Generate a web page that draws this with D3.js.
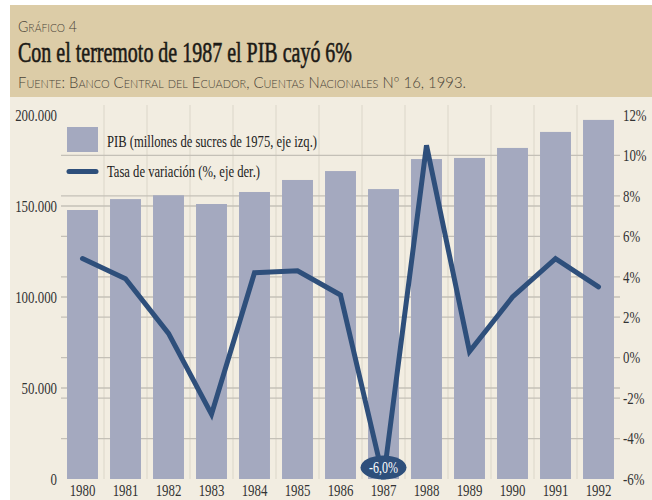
<!DOCTYPE html>
<html><head><meta charset="utf-8">
<script src="https://cdn.jsdelivr.net/npm/d3@7"></script>
<style>body{margin:0;background:#fff}svg{display:block}</style>
</head><body><svg id="c" width="652" height="500"></svg>
<script>
const years = [1980,1981,1982,1983,1984,1985,1986,1987,1988,1989,1990,1991,1992];
const pib = [147800,153800,155900,151100,157700,164300,169200,159300,175800,176400,181900,190700,197300];
const tasa = [4.9,3.9,1.2,-2.8,4.2,4.3,3.1,-6.0,10.5,0.3,3.0,4.9,3.5];
const leftTicks = [0,50000,100000,150000,200000];
const rightTicks = [-6,-4,-2,0,2,4,6,8,10,12];
const legendLabels = ["PIB (millones de sucres de 1975, eje izq.)","Tasa de variación (%, eje der.)"];
const titleText = "Con el terremoto de 1987 el PIB cayó 6%";
const kickerText = "Gráfico 4";
const sourceText = "Fuente: Banco Central del Ecuador, Cuentas Nacionales Nº 16, 1993.";
const calloutText = "-6,0%";

const svg = d3.select("#c");
const serif = "'Liberation Serif','Times New Roman',serif";
const sans = "Lato,'Noto Sans',sans-serif";

// backgrounds
svg.append("rect").attr("x",10).attr("y",5).attr("width",642).attr("height",92).attr("fill","#dccca7");
svg.append("rect").attr("x",10).attr("y",97).attr("width",642).attr("height",403).attr("fill","#f2ede1");

function condense(sel, k){
  sel.each(function(){
    const w = this.getComputedTextLength();
    d3.select(this).attr("textLength", w*k).attr("lengthAdjust","spacingAndGlyphs");
  });
}
function fit(sel, w){ sel.attr("textLength", w).attr("lengthAdjust","spacingAndGlyphs"); }

// header
fit(svg.append("text").attr("x",18).attr("y",31.5).text(kickerText)
  .style("font-family",sans).style("font-weight",300).style("font-size","15px")
  .style("font-variant","small-caps").attr("fill","#4a4438"), 59);
fit(svg.append("text").attr("x",18).attr("y",61.5).text(titleText)
  .style("font-family",serif).style("font-size","29px").attr("fill","#1c1a16")
  .attr("stroke","#1c1a16").attr("stroke-width",0.6), 334);
fit(svg.append("text").attr("x",18).attr("y",88).text(sourceText)
  .style("font-family",sans).style("font-weight",300).style("font-size","15px")
  .style("font-variant","small-caps").attr("fill","#4a4438"), 448);

// scales
const x = d3.scaleBand().domain(years).range([61,620]).paddingInner(0.28).paddingOuter(0.14);
const yL = d3.scaleLinear().domain([0,200000]).range([479,115]);
const yR = d3.scaleLinear().domain([-6,12]).range([479,115]);
const step = x.step(), bw = x.bandwidth();

// vertical grid between bars
svg.append("g").selectAll("line").data(years.slice(0,-1)).join("line")
  .attr("x1",d=>x(d)+bw+(step-bw)/2).attr("x2",d=>x(d)+bw+(step-bw)/2)
  .attr("y1",105).attr("y2",479).attr("stroke","#dbd6c9").attr("stroke-width",1);
// horizontal grid
const hg = svg.append("g");
hg.selectAll("line.r").data(rightTicks.slice(1,-1)).join("line").attr("class","r")
  .attr("x1",61).attr("x2",620).attr("y1",d=>yR(d)).attr("y2",d=>yR(d))
  .attr("stroke","#c4c0b7").attr("stroke-width",1.3);
hg.selectAll("line.l").data(leftTicks.slice(1,-1)).join("line").attr("class","l")
  .attr("x1",61).attr("x2",620).attr("y1",d=>yL(d)).attr("y2",d=>yL(d))
  .attr("stroke","#c4c0b7").attr("stroke-width",1.3);

// bars
svg.append("g").selectAll("rect").data(years).join("rect")
  .attr("x",d=>x(d)).attr("width",bw)
  .attr("y",(d,i)=>yL(pib[i])).attr("height",(d,i)=>yL(0)-yL(pib[i]))
  .attr("fill","#a4a9bf");

// line
const line = d3.line().x((d,i)=>x(years[i])+bw/2).y(d=>yR(d));
svg.append("path").datum(tasa).attr("d",line).attr("fill","none")
  .attr("stroke","#2e4f7b").attr("stroke-width",5).attr("stroke-linecap","round");

// callout
const i87 = years.indexOf(1987);
const cx = x(1987)+bw/2;
svg.append("ellipse").attr("cx",cx).attr("cy",yR(tasa[i87])-11.5).attr("rx",23).attr("ry",12)
  .attr("fill","#2e4f7b");
fit(svg.append("text").attr("x",cx).attr("y",yR(tasa[i87])-6).attr("text-anchor","middle").text(calloutText)
  .style("font-family",serif).style("font-size","16px").attr("fill","#ffffff"), 29);

// axes
const fmtL = v => d3.format(",")(v).replace(/,/g,".");
const gL = svg.append("g").attr("transform","translate(61,0)")
  .call(d3.axisLeft(yL).tickValues(leftTicks).tickFormat(fmtL).tickSize(0).tickPadding(4));
const gR = svg.append("g").attr("transform","translate(619,0)")
  .call(d3.axisRight(yR).tickValues(rightTicks).tickFormat(d=>d+"%").tickSize(0).tickPadding(4));
const gB = svg.append("g").attr("transform","translate(0,479)")
  .call(d3.axisBottom(x).tickSize(0).tickPadding(5.5));
[gL,gR,gB].forEach(g=>{
  g.select(".domain").remove();
  g.selectAll("text").style("font-family",serif).style("font-size","16.5px").attr("fill","#333");
  condense(g.selectAll("text"),0.78);
});
gB.selectAll("text").style("font-size","16px");

// legend
svg.append("rect").attr("x",67).attr("y",127).attr("width",31).attr("height",25).attr("fill","#a4a9bf");
svg.append("line").attr("x1",69).attr("x2",96).attr("y1",171.5).attr("y2",171.5)
  .attr("stroke","#2e4f7b").attr("stroke-width",5).attr("stroke-linecap","round");
fit(svg.append("text").attr("x",107).attr("y",147).text(legendLabels[0])
  .style("font-family",serif).style("font-size","17.5px").attr("fill","#222"), 210);
fit(svg.append("text").attr("x",107).attr("y",177).text(legendLabels[1])
  .style("font-family",serif).style("font-size","17.5px").attr("fill","#222"), 153);
</script></body></html>
